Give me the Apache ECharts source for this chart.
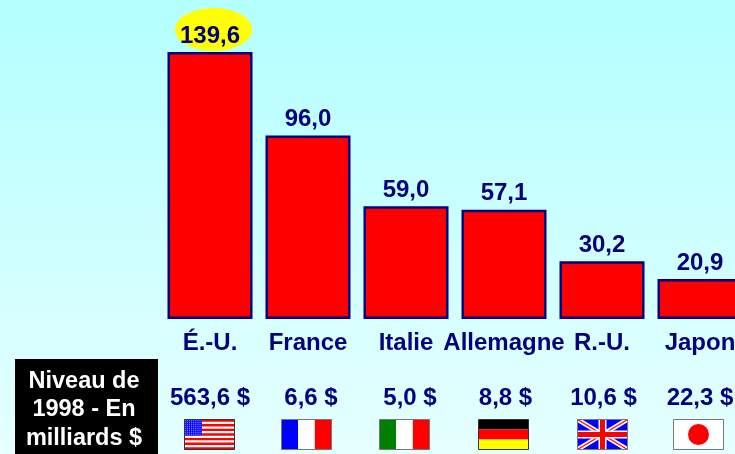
<!DOCTYPE html>
<html>
<head>
<meta charset="utf-8">
<style>html,body{margin:0;padding:0;background:#e6ffff}#c{width:735px;height:454px}</style>
<script src="https://cdn.jsdelivr.net/npm/echarts@6/dist/echarts.min.js"></script>
</head>
<body>
<div id="c"></div>
<script>
const categories = ['É.-U.', 'France', 'Italie', 'Allemagne', 'R.-U.', 'Japon'];
const values = [139.6, 96.0, 59.0, 57.1, 30.2, 20.9];
const levels1998 = ['563,6 $', '6,6 $', '5,0 $', '8,8 $', '10,6 $', '22,3 $'];
const flags = ['us', 'fr', 'it', 'de', 'uk', 'jp'];
const levelNudge = [0, 3, 4, 1.5, 1.5, 0];
const flagNudge = [0, -1.5, -1.5, -0.5, 0.5, -1.5];
const boxLines = ['Niveau de', '1998 - En', 'milliards $'];

const fontFamily = '"Liberation Sans", Arial, sans-serif';
const navy = '#000080';

function r(x, y, w, h, fill) { return { type: 'rect', shape: { x, y, width: w, height: h }, style: { fill } }; }
function ln(x1, y1, x2, y2, stroke, w) { return { type: 'line', shape: { x1, y1, x2, y2 }, style: { stroke, lineWidth: w } }; }

function flagShapes(kind, x, y, w, h) {
  const out = [];
  if (kind === 'us') {
    out.push(r(x, y, w, h, '#fff'));
    for (let i = 0; i < 7; i++) out.push(r(x, y + i * 2 * h / 13, w, h / 13, '#f00'));
    const cw = w * 0.35, ch = h * 7 / 13 ;
    out.push(r(x, y, cw, ch, '#0000ff'));
    for (let a = 0; a < 8; a++) for (let b = 0; b < 9; b++) out.push(r(x + 0.8 + b * 1.9, y + 0.8 + a * 2, 0.9, 0.9, '#b8b8ff'));
  } else if (kind === 'fr' || kind === 'it') {
    out.push(r(x, y, w / 3, h, kind === 'fr' ? '#0000ff' : '#008000'));
    out.push(r(x + w / 3, y, w / 3, h, '#fff'));
    out.push(r(x + 2 * w / 3, y, w / 3, h, '#f00'));
  } else if (kind === 'de') {
    out.push(r(x, y, w, h / 3, '#000'));
    out.push(r(x, y + h / 3, w, h / 3, '#f00'));
    out.push(r(x, y + 2 * h / 3, w, h / 3, '#ff0'));
  } else if (kind === 'uk') {
    out.push(r(x, y, w, h, '#0000ff'));
    out.push(ln(x, y, x + w, y + h, '#fff', 4.5));
    out.push(ln(x + w, y, x, y + h, '#fff', 4.5));
    out.push(ln(x, y, x + w, y + h, '#f00', 1.3));
    out.push(ln(x + w, y, x, y + h, '#f00', 1.3));
    out.push(r(x + w / 2 - 4, y, 8, h, '#fff'));
    out.push(r(x, y + h / 2 - 4, w, 8, '#fff'));
    out.push(r(x + w / 2 - 2.5, y, 5, h, '#f00'));
    out.push(r(x, y + h / 2 - 2.5, w, 5, '#f00'));
  } else {
    out.push(r(x, y, w, h, '#fff'));
    out.push({ type: 'circle', shape: { cx: x + w / 2, cy: y + h / 2, r: 10.5 }, style: { fill: '#f00' } });
  }
  out.push({ type: 'rect', shape: { x, y, width: w, height: h }, style: { fill: 'none', stroke: kind === 'us' || kind === 'de' ? '#333' : '#777', lineWidth: 1 } });
  return out;
}

const chart = echarts.init(document.getElementById('c'), null, { renderer: 'canvas' });
chart.setOption({
  animation: false,
  backgroundColor: {
    type: 'linear', x: 0, y: 0, x2: 0, y2: 1,
    colorStops: [{ offset: 0, color: '#b3ffff' }, { offset: 1, color: '#e6ffff' }]
  },
  grid: { left: 161, top: 52, right: -14, height: 267, containLabel: false, outerBoundsMode: 'none' },
  xAxis: {
    type: 'category',
    data: categories,
    axisLine: { show: false },
    axisTick: { show: false },
    axisLabel: { interval: 0, margin: 12, color: navy, fontFamily, fontWeight: 'bold', fontSize: 24, hideOverlap: false, overflow: 'none' }
  },
  yAxis: { type: 'value', min: 0, max: 139.6, show: false, splitLine: { show: false } },
  series: [
    {
      type: 'custom',
      z: 1,
      clip: false,
      silent: true,
      data: [[0, values[0]]],
      renderItem: (p, api) => {
        const c = api.coord([api.value(0), api.value(1)]);
        return { type: 'ellipse', shape: { cx: c[0] + 3.5, cy: c[1] - 22.5, rx: 38.5, ry: 21.5 }, style: { fill: '#ffff00' } };
      }
    },
    {
      type: 'bar',
      z: 2,
      data: values,
      barWidth: 85,
      itemStyle: { color: '#ff0000', borderColor: navy, borderWidth: 2.5 },
      label: {
        show: true, position: 'top', distance: 4, color: navy,
        fontFamily, fontWeight: 'bold', fontSize: 24,
        formatter: (p) => p.value.toFixed(1).replace('.', ',')
      }
    },
    {
      type: 'custom',
      z: 3,
      clip: false,
      silent: true,
      data: categories.map((_, i) => [i, 0]),
      renderItem: (p, api) => {
        const i = api.value(0);
        const c = api.coord([i, 0]);
        const fx = Math.floor(c[0] - 25.5 + flagNudge[i]) + 0.5, fy = c[1] + 100.5;
        return {
          type: 'group',
          children: [
            { type: 'text', style: { x: c[0] + levelNudge[i], y: c[1] + 79, text: levels1998[i], fill: navy, font: 'bold 24px ' + fontFamily, textAlign: 'center', textVerticalAlign: 'middle' } },
            ...flagShapes(flags[i], fx, fy, 50, 30)
          ]
        };
      }
    }
  ],
  graphic: [
    { type: 'rect', shape: { x: 15, y: 359, width: 143, height: 95 }, style: { fill: '#000' }, z: 10 },
    ...boxLines.map((t, i) => ({
      type: 'text', z: 11, x: 84, y: 381.5 + i * 28.5,
      style: { text: t, fill: '#fff', font: 'bold 23.5px ' + fontFamily, textAlign: 'center', textVerticalAlign: 'middle' }
    }))
  ]
});
</script>
</body>
</html>
